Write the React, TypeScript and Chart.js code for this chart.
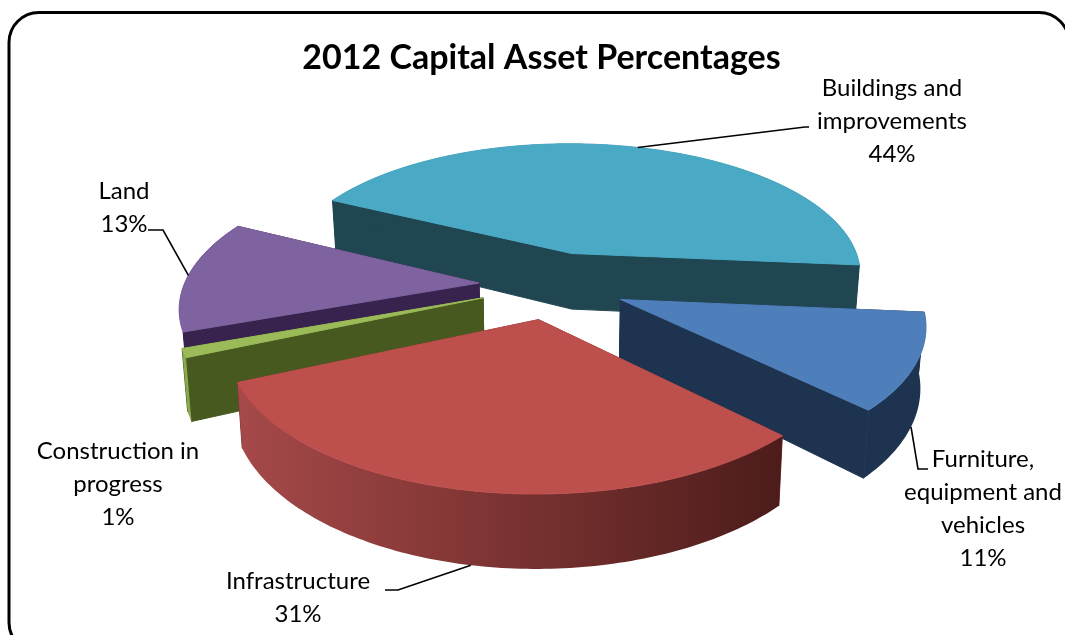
import React, { useEffect, useRef } from "react";
import { Chart, registerables } from "chart.js";

Chart.register(...registerables);

const WIDTH = 1065;
const HEIGHT = 635;
const FONT = "Lato, 'Open Sans', sans-serif";

// Chart content
const titleText = "2012 Capital Asset Percentages";
const categories = [
  "Buildings and improvements",
  "Furniture, equipment and vehicles",
  "Infrastructure",
  "Construction in progress",
  "Land",
];
const shares = [44, 11, 31, 1, 13];

// Slice colours: top faces and side walls
const topColors = ["#4aaac5", "#4f7fba", "#bd504d", "#9bbb59", "#7f62a0"];
const wallColors = ["#1f4651", "#1e3350", "#7a3331", "#47591f", "#38234f"];
const rimColors = ["#1f4651", "#1e3350", "", "#8aa84f", "#38234f"];
const infrastructureRim = ["#a6494a", "#7a3331", "#4c1c1b"];

// Wrapped label lines with their centre x and first line's centre y
const labelLines = [
  ["Buildings and", "improvements", "44%"],
  ["Furniture,", "equipment and", "vehicles", "11%"],
  ["Infrastructure", "31%"],
  ["Construction in", "progress", "1%"],
  ["Land", "13%"],
];
const labelAnchors = [
  [892, 88],
  [983, 459],
  [298, 581],
  [118, 451],
  [124, 191],
];
// Leader elbows, running outward from the slice to the label
const leaderElbows: number[][][] = [
  [[805, 127], [809, 127]],
  [[918, 469], [928, 469]],
  [[398, 590], [385, 590]],
  [],
  [[163, 230], [148, 230]],
];

// Perspective view of the disc
const CENTER_X = 552.5;
const CENTER_Y = 285;
const SCALE_X = 295;
const SCALE_Y = 135.6;
const PERSPECTIVE = 0.154;
const EXPLODE = 0.25;
const WALL_HEIGHT = 58;
const WALL_GROWTH = 1.2;
const WALL_TAPER = 0.015;

function project(mx: number, my: number, z = 0): [number, number] {
  const w = 1 / (1 - PERSPECTIVE * my);
  return [
    CENTER_X + SCALE_X * mx * w * (1 - WALL_TAPER * z),
    CENTER_Y + SCALE_Y * my * w + z * WALL_HEIGHT * Math.pow(w, WALL_GROWTH),
  ];
}

type Pt = [number, number];

function fillPolygon(ctx: CanvasRenderingContext2D, pts: Pt[], fill: string | CanvasGradient, seal = false) {
  ctx.beginPath();
  pts.forEach(([x, y], i) => (i ? ctx.lineTo(x, y) : ctx.moveTo(x, y)));
  ctx.closePath();
  ctx.fillStyle = fill;
  ctx.fill();
  if (seal) {
    // Close the hairline seam between neighbouring panels
    ctx.strokeStyle = fill;
    ctx.lineWidth = 1;
    ctx.stroke();
  }
}

// Angles and model-space offset of one arc element laid out by the pie controller
function sliceShape(arc: any) {
  const mid = (arc.startAngle + arc.endAngle) / 2;
  const ox = EXPLODE * Math.cos(mid);
  const oy = EXPLODE * Math.sin(mid);
  const steps = Math.max(2, Math.ceil(((arc.endAngle - arc.startAngle) * 180) / Math.PI));
  const rim: Pt[] = [];
  for (let i = 0; i <= steps; i++) {
    const a = arc.startAngle + ((arc.endAngle - arc.startAngle) * i) / steps;
    rim.push([ox + Math.cos(a), oy + Math.sin(a)]);
  }
  return { mid, ox, oy, rim };
}

const pie3dPlugin = {
  id: "pie3d",
  beforeDraw(chart: any) {
    const ctx: CanvasRenderingContext2D = chart.ctx;
    ctx.save();
    ctx.fillStyle = "#ffffff";
    ctx.fillRect(0, 0, WIDTH, HEIGHT);
    ctx.beginPath();
    ctx.roundRect(9, 12.5, 1060, 640, 30);
    ctx.lineWidth = 3;
    ctx.strokeStyle = "#000000";
    ctx.stroke();
    ctx.restore();
  },
  beforeDatasetsDraw(chart: any) {
    const ctx: CanvasRenderingContext2D = chart.ctx;
    const arcs: any[] = chart.getDatasetMeta(0).data;
    const shapes = arcs.map(sliceShape);
    // Paint from the back of the view to the front
    const order = shapes
      .map((s, i) => ({ i, y: project(s.ox, s.oy)[1] }))
      .sort((a, b) => a.y - b.y)
      .map((o) => o.i);

    ctx.save();
    order.forEach((i) => {
      const { ox, oy, rim } = shapes[i];
      const apexTop = project(ox, oy);
      const apexBase = project(ox, oy, 1);
      const top = rim.map(([x, y]) => project(x, y));
      const base = rim.map(([x, y]) => project(x, y, 1));
      const last = rim.length - 1;

      fillPolygon(ctx, [apexTop, top[0], base[0], apexBase], wallColors[i], true);
      fillPolygon(ctx, [apexTop, top[last], base[last], apexBase], wallColors[i], true);

      let rimFill: string | CanvasGradient = rimColors[i];
      if (!rimFill) {
        const xs = top.map((p) => p[0]);
        const g = ctx.createLinearGradient(Math.min(...xs), 0, Math.max(...xs), 0);
        infrastructureRim.forEach((c, k) => g.addColorStop(k / (infrastructureRim.length - 1), c));
        rimFill = g;
      }
      fillPolygon(ctx, [...top, ...base.slice().reverse()], rimFill);
      fillPolygon(ctx, [apexTop, ...top], arcs[i].options.backgroundColor, true);
    });

    // Leader lines start on the slice edge at its middle angle
    ctx.strokeStyle = "#000000";
    ctx.lineWidth = 1.6;
    shapes.forEach((s, i) => {
      const elbows = leaderElbows[i];
      if (!elbows.length) return;
      const front = Math.sin(s.mid) > 0;
      const [x0, y0] = project(s.ox + Math.cos(s.mid), s.oy + Math.sin(s.mid), front ? 1 : 0);
      ctx.beginPath();
      ctx.moveTo(x0, y0);
      elbows.forEach(([x, y]) => ctx.lineTo(x, y));
      ctx.stroke();
    });

    // Category labels with their percentage
    ctx.fillStyle = "#000000";
    ctx.font = `24px ${FONT}`;
    ctx.textAlign = "center";
    ctx.textBaseline = "middle";
    labelLines.forEach((lines, i) => {
      const [cx, cy] = labelAnchors[i];
      lines.forEach((line, k) => ctx.fillText(line, cx, cy + k * 33));
    });
    ctx.restore();
    return false;
  },
};

export default function App() {
  const ref = useRef<HTMLCanvasElement>(null);

  useEffect(() => {
    const chart = new Chart(ref.current!, {
      type: "pie",
      data: {
        labels: categories,
        datasets: [{ data: shares, backgroundColor: topColors, borderWidth: 0 }],
      },
      options: {
        responsive: false,
        animation: false,
        rotation: -63.3,
        layout: { padding: { left: 18 } },
        events: [],
        plugins: {
          legend: { display: false },
          tooltip: { enabled: false },
          title: {
            display: true,
            text: titleText,
            color: "#000000",
            font: { family: FONT, size: 34, weight: "bold" },
            padding: { top: 38, bottom: 10 },
          },
        },
      },
      plugins: [pie3dPlugin],
    } as any);
    return () => chart.destroy();
  }, []);

  return (
    <div style={{ position: "fixed", left: 0, top: 0, width: WIDTH, height: HEIGHT, overflow: "hidden", background: "#fff" }}>
      <canvas ref={ref} width={WIDTH} height={HEIGHT} style={{ display: "block" }} />
    </div>
  );
}
